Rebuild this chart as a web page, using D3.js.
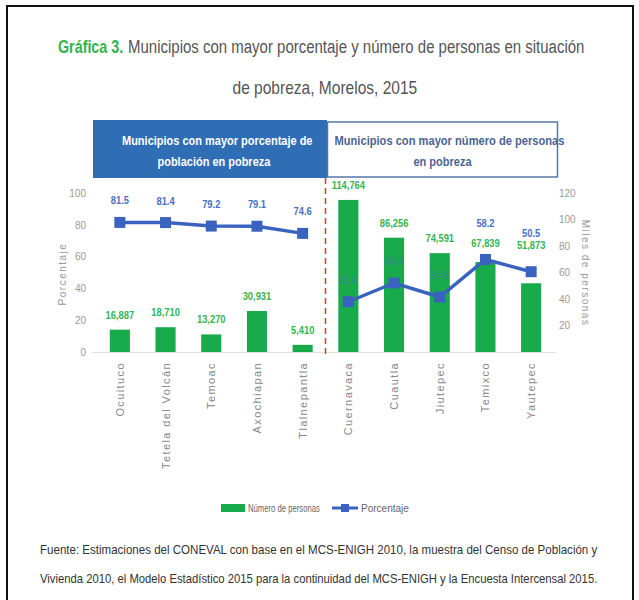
<!DOCTYPE html>
<html>
<head>
<meta charset="utf-8">
<script src="https://cdnjs.cloudflare.com/ajax/libs/d3/7.8.5/d3.min.js"></script>
<style>
body{margin:0;background:#fff;}
text{font-family:"Liberation Sans",Arial,sans-serif;}
</style>
</head>
<body>
<div id="chart"></div>
<script>
// datos
var municipios=["Ocuituco","Tetela del Volcán","Temoac","Axochiapan","Tlalnepantla","Cuernavaca","Cuautla","Jiutepec","Temixco","Yautepec"];
var personas=[16887,18710,13270,30931,5410,114764,86256,74591,67839,51873];
var porcentaje=[81.5,81.4,79.2,79.1,74.6,31.6,43.4,34.6,58.2,50.5];
var grupos=[[0,1,2,3,4],[5,6,7,8,9]];
var ticksPct=[0,20,40,60,80,100];
var ticksMiles=[20,40,60,80,100,120];

// ajustes de etiquetas (px hacia arriba)
var liftNum=[0,0,0,0,0,0,0,0,4,23];
var liftPct=[0,0,0,0,0,0,0,0,14,17];

var W=639,H=600;
var green="#19aa4b",blue="#3a63bf",gray="#555";

var svg=d3.select("#chart").append("svg").attr("width",W).attr("height",H);

// texto angosto: se escala en x hasta el ancho medido en la imagen
function narrow(x,y,s,size,width,anchor){
  var t=svg.append("text").attr("font-size",size).text(s);
  var len=t.node().getComputedTextLength();
  var k=width/len;
  var x0=anchor=="middle"?x-width/2:x;
  t.attr("transform","translate("+x0+","+y+") scale("+k+",1)");
  return t;
}

// marco
svg.append("rect").attr("x",7).attr("y",6).attr("width",626).attr("height",610)
  .attr("fill","none").attr("stroke","#111").attr("stroke-width",2);

// titulo
narrow(58,53,"Gráfica 3.",18,62).attr("fill","#2fb34f").attr("font-weight","bold");
narrow(128,53,"Municipios con mayor porcentaje y número de personas en situación",18,457).attr("fill",gray);
narrow(325,94,"de pobreza, Morelos, 2015",18,185,"middle").attr("fill",gray);

// cajas de encabezado
svg.append("rect").attr("x",93).attr("y",120).attr("width",234).attr("height",58).attr("fill","#2f6db5");
svg.append("rect").attr("x",327.5).attr("y",122).attr("width",230).attr("height",55)
  .attr("fill","#fff").attr("stroke","#5577a8").attr("stroke-width",1.5);
narrow(210,145,"Municipios con mayor porcentaje de",12,176,"middle").attr("font-weight","bold").attr("fill","#fff");
narrow(210,166,"población en pobreza",12,105,"middle").attr("font-weight","bold").attr("fill","#fff");
narrow(441,145,"Municipios con mayor número de personas",12,213,"middle").attr("font-weight","bold").attr("fill","#4a6594");
narrow(441,166,"en pobreza",12,55,"middle").attr("font-weight","bold").attr("fill","#4a6594");

// escalas
var x=d3.scaleBand().domain(municipios).range([97,554]).paddingInner(0.56).paddingOuter(0.28);
var yL=d3.scaleLinear().domain([0,100]).range([352,193]);
var yR=d3.scaleLinear().domain([0,120]).range([352,193]);
var cx=function(i){return x(municipios[i])+x.bandwidth()/2;};

// ejes
var gl=svg.append("g").attr("transform","translate(86,0)")
  .call(d3.axisLeft(yL).tickValues(ticksPct).tickSize(0).tickPadding(0));
var gr=svg.append("g").attr("transform","translate(559,0)")
  .call(d3.axisRight(yR).tickValues(ticksMiles).tickSize(0).tickPadding(0));
[gl,gr].forEach(function(g){
  g.select(".domain").remove();
  g.selectAll("text").attr("fill","#999").attr("font-size",10)
    .style("font-family","'Liberation Sans',sans-serif");
});
svg.append("text").attr("transform","translate(66,274) rotate(-90)").attr("text-anchor","middle")
  .attr("font-size",10).attr("letter-spacing",1.5).attr("fill","#999").text("Porcentaje");
svg.append("text").attr("transform","translate(582,273) rotate(90)").attr("text-anchor","middle")
  .attr("font-size",10).attr("letter-spacing",1.5).attr("fill","#999").text("Miles de personas");

// linea base
svg.append("line").attr("x1",92).attr("x2",556).attr("y1",352.5).attr("y2",352.5)
  .attr("stroke","#d9e6d9").attr("stroke-width",1);

// barras
svg.selectAll("rect.bar").data(personas).enter().append("rect").attr("class","bar")
  .attr("x",function(d,i){return x(municipios[i]);})
  .attr("width",x.bandwidth())
  .attr("y",function(d){return yR(d/1000);})
  .attr("height",function(d){return yR(0)-yR(d/1000);})
  .attr("fill",green);

// separador
svg.append("line").attr("x1",325.5).attr("x2",325.5).attr("y1",178).attr("y2",354)
  .attr("stroke","#d23a3a").attr("stroke-width",1.5).attr("stroke-dasharray","6,4");

// lineas de porcentaje
var line=d3.line().x(function(i){return cx(i);}).y(function(i){return yL(porcentaje[i]);});
grupos.forEach(function(g){
  svg.append("path").attr("d",line(g)).attr("fill","none").attr("stroke",blue).attr("stroke-width",3.5);
});
svg.selectAll("rect.mk").data(porcentaje).enter().append("rect").attr("class","mk")
  .attr("x",function(d,i){return cx(i)-5.5;}).attr("y",function(d){return yL(d)-5.5;})
  .attr("width",11).attr("height",11).attr("fill",blue);

// etiquetas
var fmt=d3.format(",");
svg.selectAll("text.num").data(personas).enter().append("text").attr("class","num")
  .attr("transform",function(d,i){return "translate("+cx(i)+","+(yR(d/1000)-11-liftNum[i])+") scale(0.85,1)";})
  .attr("text-anchor","middle").attr("font-size",11).attr("font-weight","bold").attr("fill","#33b552")
  .text(function(d){return fmt(d);});
svg.selectAll("text.pct").data(porcentaje).enter().append("text").attr("class","pct")
  .attr("transform",function(d,i){return "translate("+cx(i)+","+(yL(d)-18-liftPct[i])+") scale(0.85,1)";})
  .attr("text-anchor","middle").attr("font-size",11).attr("font-weight","bold").attr("fill","#4a6fc4")
  .attr("opacity",function(d,i){return yL(d)-18-liftPct[i]>yR(personas[i]/1000)?0.45:1;})
  .text(function(d){return d3.format(".1f")(d);});

// nombres de municipios
svg.selectAll("text.cat").data(municipios).enter().append("text").attr("class","cat")
  .attr("transform",function(d,i){return "translate("+(cx(i)+4)+",362) rotate(-90)";})
  .attr("text-anchor","end").attr("font-size",11).attr("letter-spacing",1.4).attr("fill","#888")
  .text(function(d){return d;});

// leyenda
svg.append("rect").attr("x",221).attr("y",504).attr("width",24).attr("height",8).attr("fill",green);
narrow(248,512,"Número de personas",11,72).attr("fill","#666");
svg.append("line").attr("x1",332).attr("x2",358).attr("y1",508).attr("y2",508).attr("stroke",blue).attr("stroke-width",3);
svg.append("rect").attr("x",341).attr("y",504).attr("width",8).attr("height",8).attr("fill",blue);
narrow(361,512,"Porcentaje",11,48).attr("fill","#666");

// fuente
var notas=["Fuente: Estimaciones del CONEVAL con base en el MCS-ENIGH 2010, la muestra del Censo de Población y",
  "Vivienda 2010, el Modelo Estadístico 2015 para la continuidad del MCS-ENIGH y la Encuesta Intercensal 2015."];
notas.forEach(function(s,i){
  narrow(40,554+i*29,s,13,558).attr("fill","#333");
});
</script>
</body>
</html>
